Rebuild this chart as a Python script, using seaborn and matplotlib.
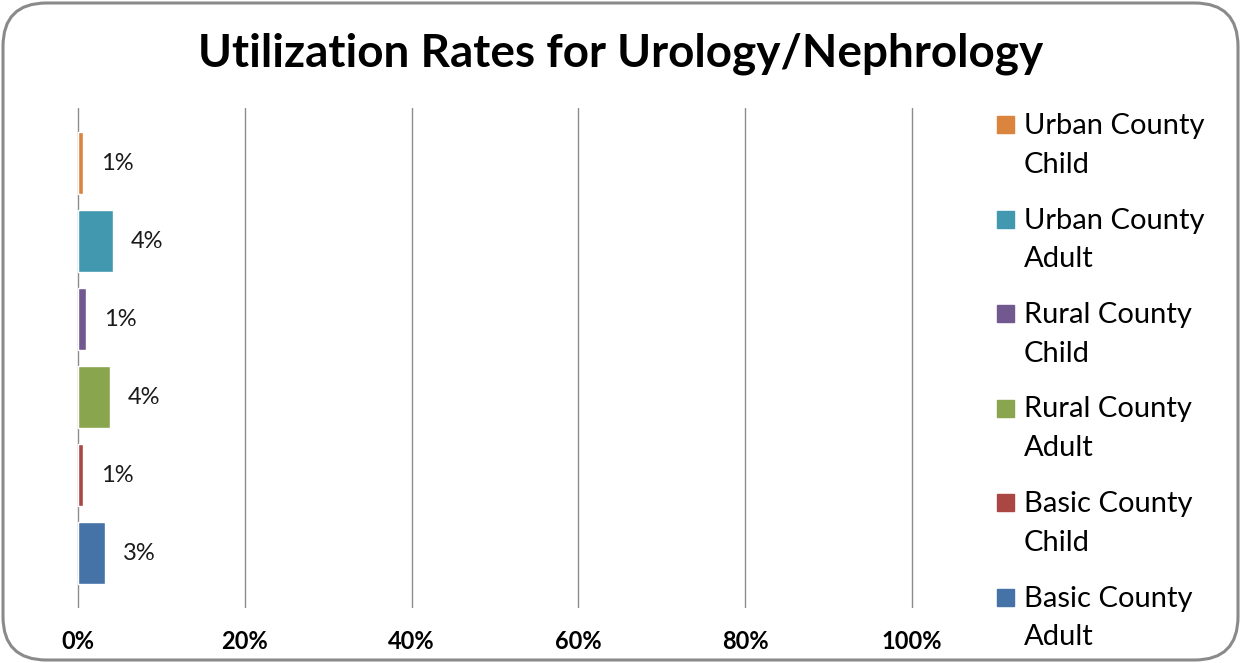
import pandas as pd
import seaborn as sns
import matplotlib.pyplot as plt
from matplotlib.patches import FancyBboxPatch, Rectangle
from matplotlib.ticker import PercentFormatter

groups = ['Urban County\nChild', 'Urban County\nAdult', 'Rural County\nChild',
          'Rural County\nAdult', 'Basic County\nChild', 'Basic County\nAdult']
rates = [0.006, 0.042, 0.009, 0.038, 0.006, 0.032]
colors = ['#DB843D', '#4198AF', '#71588F', '#89A54E', '#AA4643', '#4572A7']
x_ticks = [0, 0.2, 0.4, 0.6, 0.8, 1.0]

df = pd.DataFrame({'group': groups, 'rate': rates})

sns.set_style('white')
plt.rcParams['font.family'] = ['Lato', 'DejaVu Sans']

W, H = 1241, 663
fig = plt.figure(figsize=(W / 100, H / 100), dpi=100)

# plot area: 0% at x=78px, 100% at x=912px, grid from y=108 to 608
px = 834.0
left_px, right_px = 70, 920
ax = fig.add_axes([left_px / W, (H - 608) / H, (right_px - left_px) / W, 500 / H])

sns.barplot(data=df, y='group', x='rate', hue='group', palette=colors,
            order=groups, width=0.8, legend=False, ax=ax, saturation=1)

ax.set_xlim((left_px - 78) / px, (right_px - 78) / px)
half = 500 / 78 / 2
ax.set_ylim(2.5 + half, 2.5 - half)
ax.set_xticks(x_ticks)
ax.xaxis.set_major_formatter(PercentFormatter(1.0, decimals=0))
ax.set_yticks([])
ax.set_xlabel('')
ax.set_ylabel('')
ax.grid(axis='x', color='#8c8c8c', linewidth=1)
ax.set_axisbelow(True)
for s in ax.spines.values():
    s.set_visible(False)
ax.tick_params(axis='x', length=0, pad=16, labelsize=17, labelcolor='black')
for lab in ax.get_xticklabels():
    lab.set_fontweight('bold')

for i, v in enumerate(rates):
    ax.annotate(f'{v:.0%}', (v, i), xytext=(13, 0), textcoords='offset points',
                va='center', ha='left', fontsize=17, color='#1a1a1a')

fig.text(0.5, 1 - 54 / H, 'Utilization Rates for Urology/Nephrology',
         ha='center', va='center', fontsize=33, fontweight='bold', color='black')

# legend
for i, (g, c) in enumerate(zip(groups, colors)):
    top = 110 + i * 94.5
    fig.patches.append(Rectangle((997 / W, 1 - (top + 23) / H), 17 / W, 17 / H,
                                 transform=fig.transFigure, color=c))
    fig.text(1024 / W, 1 - (top + 3) / H, g, ha='left', va='top', fontsize=21,
             linespacing=1.6, color='black')

fig.patches.append(FancyBboxPatch((3 / W, 3 / H), (W - 6) / W, (H - 6) / H,
                                  boxstyle='round,pad=0,rounding_size=0.035',
                                  transform=fig.transFigure, fill=False,
                                  edgecolor='#8a8a8a', linewidth=2.2,
                                  mutation_aspect=W / H))

fig.savefig('out.png', dpi=100)
